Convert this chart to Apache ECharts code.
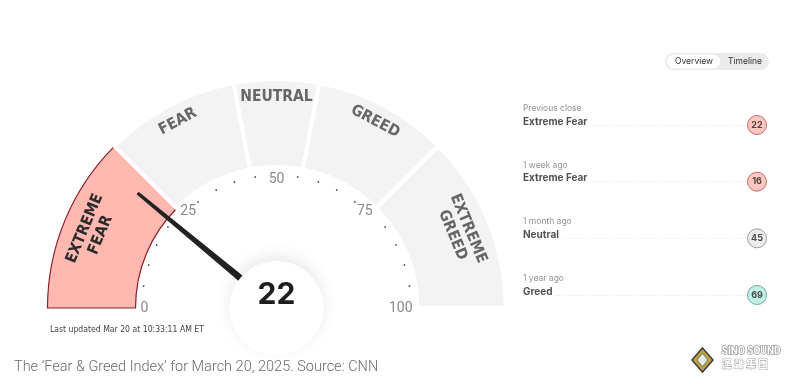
<!DOCTYPE html>
<html>
    <head>
        <meta charset="utf-8">
        <script src="https://cdn.jsdelivr.net/npm/echarts@6/dist/echarts.min.js"></script>
        <style>
            html, body { margin: 0; padding: 0; background: #fff; }
        </style>
    </head>
    <body>
    <div id="chart" style="width: 789px;height:384px;"></div>
    </body>
    <script>
        // gauge bands (index ranges 0-100)
        let bandNames = ['EXTREME\nFEAR', 'FEAR', 'NEUTRAL', 'GREED', 'EXTREME\nGREED'];
        let bandSizes = [25, 19, 12, 19, 25];
        let currentValue = 22;
        let tickLabels = [0, 25, 50, 75, 100];

        // history list on the right
        let historyWhen = ['Previous close', '1 week ago', '1 month ago', '1 year ago'];
        let historyRating = ['Extreme Fear', 'Extreme Fear', 'Neutral', 'Greed'];
        let historyValue = [22, 16, 45, 69];

        let ratingColor = {
            'Extreme Fear': ['#ffb9b0', '#a8535b'],
            'Fear': ['#ffd5c9', '#a8735b'],
            'Neutral': ['#e6e6e6', '#8a8a8a'],
            'Greed': ['#b4ece0', '#4f9c8c'],
            'Extreme Greed': ['#8fdcc9', '#3b8a78']
        };

        let cx = 276.5, cy = 308;
        let labelFont = '"Liberation Sans Narrow", "DejaVu Sans Condensed", sans-serif';

        let bandData = bandNames.map(function (n, i) {
            let first = i === 0;
            return {
                name: n,
                value: bandSizes[i],
                itemStyle: first
                    ? {color: '#ffb9b0', borderColor: '#8c1d2c', borderWidth: 1.2}
                    : {color: '#f3f3f3', borderColor: '#fff', borderWidth: 4}
            };
        });
        let total = bandSizes.reduce(function (a, b) { return a + b; }, 0);
        bandData.push({name: 'rest', value: total, itemStyle: {color: 'rgba(0,0,0,0)', borderWidth: 0}});

        // one-line labels sit further out than the two-line ones
        function labelItems(twoLine) {
            let d = bandNames.map(function (n, i) {
                let isTwo = n.indexOf('\n') >= 0;
                return {
                    name: n,
                    value: bandSizes[i],
                    label: {show: isTwo === twoLine, color: i === 0 ? '#2a2a2a' : '#666'}
                };
            });
            d.push({name: '', value: total, label: {show: false}});
            return d;
        }

        let labelBase = {
            show: true,
            position: 'inside',
            rotate: 'tangential',
            formatter: '{b}',
            fontFamily: labelFont,
            fontWeight: 'bold',
            fontSize: 15.5,
            lineHeight: 17
        };

        let scatterData = historyValue.map(function (v, i) {
            let c = ratingColor[historyRating[i]];
            return {
                value: [1, historyWhen[i]],
                label: {formatter: String(v)},
                itemStyle: {color: c[0], borderColor: c[1], borderWidth: 1}
            };
        });
        let nameData = historyWhen.map(function (w, i) {
            return {
                value: [0, w],
                label: {formatter: '{s|' + w + '}\n{n|' + historyRating[i] + '}'}
            };
        });

        option = {
            animation: false,
            grid: {left: 523, right: 32, top: 125, bottom: 89},
            xAxis: {type: 'value', min: 0, max: 1, show: false},
            yAxis: {
                type: 'category',
                data: historyWhen,
                inverse: true,
                boundaryGap: false,
                axisLine: {show: false},
                axisTick: {show: false},
                axisLabel: {show: false},
                splitLine: {show: true, lineStyle: {color: '#e2e2e2', type: [1, 2], width: 1}}
            },
            series: [
                {
                    type: 'pie',
                    z: 1,
                    center: [cx, cy],
                    radius: [141, 229],
                    startAngle: 180,
                    silent: true,
                    label: {show: false},
                    labelLine: {show: false},
                    data: bandData
                },
                {
                    type: 'pie',
                    z: 2,
                    center: [cx, cy],
                    radius: [188, 228],
                    startAngle: 180,
                    silent: true,
                    itemStyle: {color: 'rgba(0,0,0,0)'},
                    label: labelBase,
                    labelLine: {show: false},
                    data: labelItems(false)
                },
                {
                    type: 'pie',
                    z: 2,
                    center: [cx, cy],
                    radius: [164, 228],
                    startAngle: 180,
                    silent: true,
                    itemStyle: {color: 'rgba(0,0,0,0)'},
                    label: labelBase,
                    labelLine: {show: false},
                    data: labelItems(true)
                },
                {
                    type: 'gauge',
                    z: 4,
                    center: [cx, cy],
                    radius: 142,
                    startAngle: 180,
                    endAngle: 0,
                    min: 0,
                    max: 100,
                    splitNumber: 20,
                    silent: true,
                    axisLine: {show: false, lineStyle: {width: 0}},
                    axisTick: {show: false},
                    splitLine: {show: false, length: 0},
                    axisLabel: {
                        distance: -4,
                        color: '#888',
                        fontSize: 14,
                        fontFamily: 'Roboto, sans-serif',
                        formatter: function (v) {
                            return tickLabels.indexOf(v) >= 0 ? String(v) : '{d|•}';
                        },
                        rich: {d: {fontSize: 8.5, color: '#555'}}
                    },
                    pointer: {
                        icon: 'path://M1.2,0 L2.8,0 L4,100 L0,100 Z',
                        length: '127%',
                        width: 8,
                        offsetCenter: [0, 0],
                        itemStyle: {color: '#222'}
                    },
                    anchor: {show: false},
                    title: {show: false},
                    detail: {show: false},
                    data: [{value: currentValue}]
                },
                {
                    // centre hub that hides the pointer base
                    type: 'gauge',
                    z: 6,
                    center: [cx, cy],
                    radius: 142,
                    startAngle: 180,
                    endAngle: 0,
                    min: 0,
                    max: 100,
                    silent: true,
                    axisLine: {show: false},
                    axisTick: {show: false},
                    splitLine: {show: false},
                    axisLabel: {show: false},
                    pointer: {show: false},
                    anchor: {
                        show: true,
                        showAbove: true,
                        size: 94,
                        itemStyle: {color: '#fff', shadowBlur: 16, shadowOffsetY: -5,
                            shadowColor: 'rgba(0,0,0,0.09)'}
                    },
                    title: {show: false},
                    detail: {show: false},
                    data: [{value: currentValue}]
                },
                {
                    type: 'gauge',
                    z: 8,
                    center: [cx, cy],
                    radius: 142,
                    startAngle: 180,
                    endAngle: 0,
                    min: 0,
                    max: 100,
                    silent: true,
                    axisLine: {show: false},
                    axisTick: {show: false},
                    splitLine: {show: false},
                    axisLabel: {show: false},
                    pointer: {show: false},
                    anchor: {show: false},
                    title: {show: false},
                    detail: {
                        formatter: '{value}',
                        offsetCenter: [0, -13],
                        fontSize: 30,
                        fontWeight: 'bold',
                        fontFamily: 'Inter, Roboto, sans-serif',
                        color: '#1e1e1e'
                    },
                    data: [{value: currentValue}]
                },
                {
                    type: 'scatter',
                    symbolSize: 0,
                    silent: true,
                    label: {
                        show: true,
                        position: 'right',
                        distance: 0,
                        offset: [0, -10],
                        align: 'left',
                        rich: {
                            s: {fontSize: 8.5, color: '#777', fontFamily: 'Inter, sans-serif', lineHeight: 13},
                            n: {fontSize: 10, fontWeight: 'bold', color: '#262626', fontFamily: 'Inter, sans-serif',
                                lineHeight: 13, backgroundColor: '#fff', padding: [0, 3, 0, 0]}
                        }
                    },
                    data: nameData,
                    z: 3
                },
                {
                    type: 'scatter',
                    symbolSize: 19,
                    silent: true,
                    label: {
                        show: true,
                        position: 'inside',
                        fontSize: 9,
                        fontWeight: 'bold',
                        color: '#222',
                        fontFamily: 'Inter, sans-serif'
                    },
                    data: scatterData,
                    z: 4
                }
            ],
            graphic: [
                {
                    type: 'rect', left: 665, top: 53,
                    shape: {width: 104, height: 17, r: 8.5},
                    style: {fill: '#ebebeb'}
                },
                {
                    type: 'rect', left: 667, top: 54.5,
                    shape: {width: 53, height: 14, r: 7},
                    style: {fill: '#fff'}
                },
                {
                    type: 'text', left: 675, top: 56.5,
                    style: {text: 'Overview', fontSize: 8.5, fill: '#333', fontFamily: 'Inter, sans-serif'}
                },
                {
                    type: 'text', left: 728, top: 56.5,
                    style: {text: 'Timeline', fontSize: 8.5, fill: '#333', fontFamily: 'Inter, sans-serif'}
                },
                {
                    type: 'text', left: 50, top: 325,
                    style: {text: 'Last updated Mar 20 at 10:33:11 AM ET', fontSize: 8.6, fill: '#444',
                        fontFamily: '"Liberation Sans Narrow", "DejaVu Sans Condensed", sans-serif'}
                },
                {
                    type: 'text', left: 14, top: 360,
                    style: {text: 'The \u2018Fear & Greed Index\u2019 for March 20, 2025. Source: CNN', fontSize: 14.5,
                        fill: '#6b6b6b', fontFamily: 'Roboto, sans-serif', fontWeight: 300}
                },
                {
                    type: 'polygon',
                    shape: {points: [[702.5, 348], [713, 360], [702.5, 372], [692, 360]]},
                    style: {fill: '#c9a24a', stroke: '#3a3a3a', lineWidth: 1.5}
                },
                {
                    type: 'polygon',
                    shape: {points: [[702.5, 353], [708, 360], [702.5, 367], [697, 360]]},
                    style: {fill: '#e9e9e9', stroke: '#6b8e4e', lineWidth: 1.2}
                },
                {
                    type: 'text', left: 721, top: 346,
                    style: {text: 'SINO SOUND', fontSize: 10, fontWeight: 'bold', fill: '#fff',
                        stroke: '#9a9a9a', lineWidth: 1.5, fontFamily: 'Roboto, sans-serif'}
                },
                {
                    type: 'text', left: 721, top: 359,
                    style: {text: '漢 聲 集 團', fontSize: 10, fontWeight: 'bold', fill: '#fff',
                        stroke: '#b0b0b0', lineWidth: 1, fontFamily: '"Noto Sans CJK TC", sans-serif'}
                }
            ]
        };
        myChart = echarts.init(document.getElementById('chart'));
        myChart.setOption(option);
    </script>
</html>
